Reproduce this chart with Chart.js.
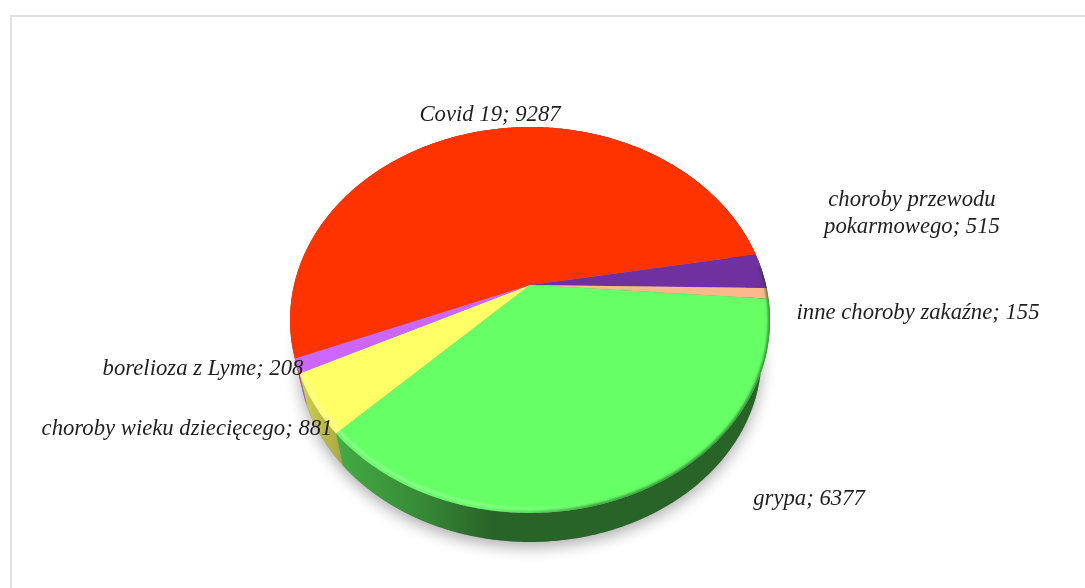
<!DOCTYPE html>
<html lang="pl">
<head>
    <meta charset="UTF-8">
    <title>Choroby</title>
    <script src="https://cdn.jsdelivr.net/npm/chart.js"></script>
    <style>
        html, body { margin: 0; padding: 0; background: #fff; overflow: hidden; }
        #frame { position: absolute; left: 10px; top: 15px; right: 0; bottom: 0; border-top: 2px solid #e0e0e0; border-left: 2px solid #e0e0e0; }
        #pie { position: absolute; left: 0; top: 0; }
    </style>
</head>
<body>
    <div id="frame"></div>
    <canvas id="pie" width="1085" height="588"></canvas>

    <script>
        // slices, clockwise from the purple one
        const categories = ['choroby przewodu pokarmowego', 'inne choroby zakaźne', 'grypa', 'choroby wieku dziecięcego', 'borelioza z Lyme', 'Covid 19'];
        const values = [515, 155, 6377, 881, 208, 9287];
        const colors = ['#7030a0', '#fbb98c', '#66ff66', '#ffff66', '#cc66ff', '#ff3300'];

        // where each label goes: centre x, first baseline y, line breaks
        const labelLines = [['choroby przewodu', 'pokarmowego; 515'], null, null, null, null, null];
        const labelX = [912, 918, 809, 187, 203, 490];
        const labelY = [206, 319, 505, 435, 375, 121];

        // perspective of the tilted disc
        const cx = 530, cy = 285, bx = 236, ay = 186.6, persp = 0.1813;
        // the underside is further away, so smaller and lower
        const baseScale = 0.965, baseDrop = 37;

        function project(r, angle, base) {
            const u = r * Math.cos(angle), v = r * Math.sin(angle);
            const w = 1 - persp * v;
            const s = base ? baseScale : 1;
            return [cx + s * bx * u / w, cy + s * ay * v / w + (base ? baseDrop : 0)];
        }

        function traceArc(ctx, r, a0, a1, base, first) {
            const steps = Math.max(2, Math.ceil(Math.abs(a1 - a0) / 0.01));
            for (let i = 0; i <= steps; i++) {
                const p = project(r, a0 + (a1 - a0) * i / steps, base);
                if (i === 0 && first) ctx.moveTo(p[0], p[1]);
                else ctx.lineTo(p[0], p[1]);
            }
        }

        function shade(hex, f) {
            const n = parseInt(hex.slice(1), 16);
            return 'rgb(' + Math.round((n >> 16) * f) + ',' + Math.round(((n >> 8) & 255) * f) + ',' + Math.round((n & 255) * f) + ')';
        }

        const tiltedPie = {
            id: 'tiltedPie',
            beforeDatasetsDraw(chart) {
                const ctx = chart.ctx;
                const arcs = chart.getDatasetMeta(0).data;

                // soft shadow under the whole disc
                ctx.save();
                ctx.shadowColor = 'rgba(0,0,0,0.33)';
                ctx.shadowBlur = 15;
                ctx.shadowOffsetY = 5;
                ctx.fillStyle = '#888';
                ctx.beginPath();
                traceArc(ctx, 1, 0, Math.PI * 2, true, true);
                ctx.closePath();
                ctx.fill();
                ctx.restore();

                // side wall
                arcs.forEach(function (arc) {
                    const col = arc.options.backgroundColor;
                    const g = ctx.createLinearGradient(291, 0, 770, 0);
                    g.addColorStop(0, shade(col, 0.84));
                    g.addColorStop(0.11, shade(col, 0.66));
                    g.addColorStop(0.27, shade(col, 0.54));
                    g.addColorStop(0.42, shade(col, 0.39));
                    g.addColorStop(1, shade(col, 0.39));
                    ctx.fillStyle = g;
                    ctx.beginPath();
                    traceArc(ctx, 1, arc.startAngle, arc.endAngle, false, true);
                    traceArc(ctx, 1, arc.endAngle, arc.startAngle, true, false);
                    ctx.closePath();
                    ctx.fill();
                });

                // top faces
                arcs.forEach(function (arc) {
                    ctx.save();
                    ctx.beginPath();
                    ctx.moveTo(cx, cy);
                    traceArc(ctx, 1, arc.startAngle, arc.endAngle, false, false);
                    ctx.closePath();
                    ctx.fillStyle = arc.options.backgroundColor;
                    ctx.fill();
                    ctx.clip();

                    // bevel: light line just inside the rim, dark edge on the rim
                    const light = ctx.createLinearGradient(300, 0, 620, 0);
                    light.addColorStop(0, 'rgba(255,255,255,0.4)');
                    light.addColorStop(0.6, 'rgba(255,255,255,0.3)');
                    light.addColorStop(1, 'rgba(255,255,255,0)');
                    ctx.filter = 'blur(1px)';
                    ctx.strokeStyle = light;
                    ctx.lineWidth = 2;
                    ctx.beginPath();
                    traceArc(ctx, 0.985, 1.0, 2.7, false, true);
                    ctx.stroke();

                    const dark = ctx.createLinearGradient(480, 0, 770, 0);
                    dark.addColorStop(0, 'rgba(30,70,30,0)');
                    dark.addColorStop(0.4, 'rgba(30,70,30,0.7)');
                    dark.addColorStop(1, 'rgba(30,70,30,0.8)');
                    ctx.filter = 'blur(1.5px)';
                    ctx.strokeStyle = dark;
                    ctx.lineWidth = 3;
                    ctx.beginPath();
                    traceArc(ctx, 1, -0.1, 2.6, false, true);
                    ctx.stroke();
                    ctx.restore();
                });
                return false;
            },
            afterDraw(chart) {
                const ctx = chart.ctx;
                ctx.save();
                ctx.font = 'italic 22.7px "Liberation Serif"';
                ctx.fillStyle = '#1f1f1f';
                ctx.textAlign = 'center';
                ctx.textBaseline = 'alphabetic';
                categories.forEach(function (name, i) {
                    const lines = labelLines[i] || [name + '; ' + values[i]];
                    lines.forEach(function (line, k) {
                        ctx.fillText(line, labelX[i], labelY[i] + k * 27);
                    });
                });
                ctx.restore();
            }
        };

        new Chart(document.getElementById('pie').getContext('2d'), {
            type: 'pie',
            data: {
                labels: categories,
                datasets: [{ data: values, backgroundColor: colors, borderWidth: 0 }]
            },
            options: {
                responsive: false,
                animation: false,
                rotation: 80.3,
                plugins: { legend: { display: false }, tooltip: { enabled: false } }
            },
            plugins: [tiltedPie]
        });
    </script>
</body>
</html>
